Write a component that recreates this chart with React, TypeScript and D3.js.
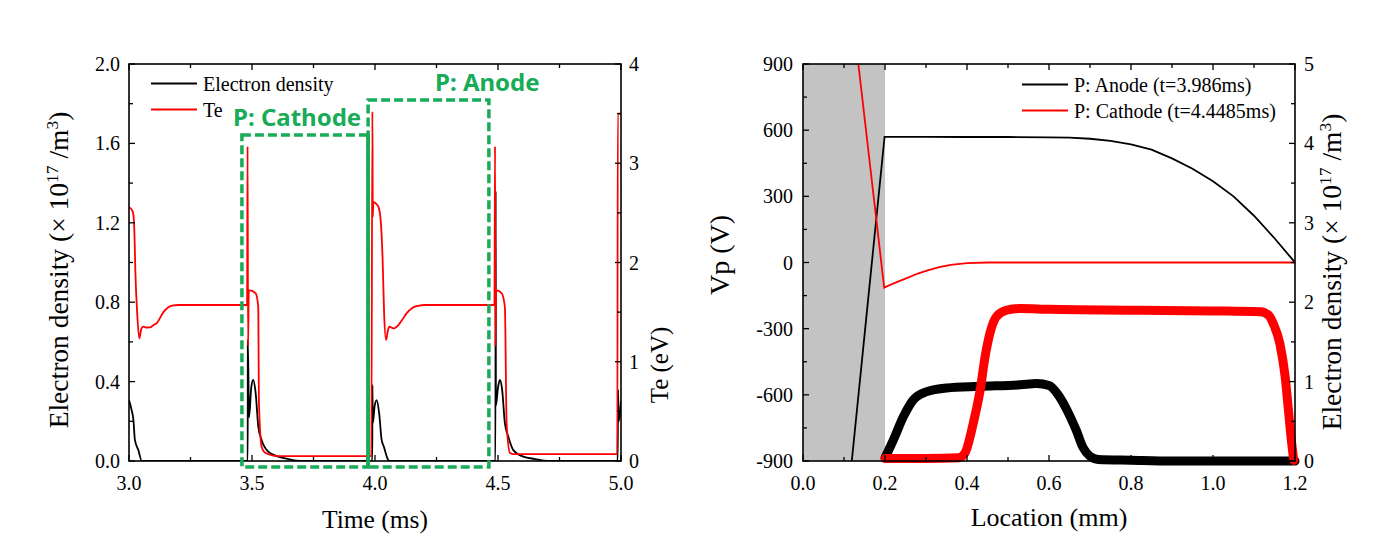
import React from 'react';
import * as d3 from 'd3';

type P = [number, number];

// ---------- Left panel (time evolution) ----------
const timeTicks = [3.0, 3.5, 4.0, 4.5, 5.0];
const timeMinor = [3.25, 3.75, 4.25, 4.75];
const neTicksL = [0, 0.4, 0.8, 1.2, 1.6, 2.0];
const neMinorL = [0.2, 0.6, 1.0, 1.4, 1.8];
const teTicks = [0, 1, 2, 3, 4];
const teMinor = [0.5, 1.5, 2.5, 3.5];

// electron density (x 10^17 /m^3) vs time (ms)
const electronDensity: P[] = [
  [3.0, 0.307], [3.01, 0.26], [3.018, 0.206], [3.024, 0.106], [3.038, 0.055], [3.052, 0.0],
  [3.4825, 0.0], [3.483, 0.61], [3.488, 0.22], [3.497, 0.37], [3.505, 0.408], [3.515, 0.341],
  [3.5256, 0.173], [3.539, 0.106], [3.566, 0.047], [3.607, 0.022], [3.648, 0.01], [3.7, 0.0],
  [3.989, 0.0], [3.9895, 0.383], [3.991, 0.19], [3.999, 0.28], [4.007, 0.307], [4.017, 0.24],
  [4.027, 0.106], [4.036, 0.072], [4.054, 0.005], [4.06, 0.0],
  [4.4895, 0.0], [4.4905, 1.36], [4.4915, 0.28], [4.5, 0.37], [4.508, 0.408], [4.517, 0.357],
  [4.528, 0.19], [4.542, 0.122], [4.562, 0.055], [4.603, 0.022], [4.65, 0.01], [4.7, 0.0],
  [4.9865, 0.0], [4.988, 0.358], [4.991, 0.2], [5.0, 0.3],
];

// electron temperature (eV) vs time (ms)
const electronTemp: P[] = [
  [3.0, 2.556], [3.012, 2.53], [3.018, 2.48], [3.022, 2.3], [3.026, 1.9], [3.033, 1.5],
  [3.042, 1.236], [3.05, 1.33], [3.058, 1.354], [3.072, 1.345], [3.085, 1.346], [3.1, 1.37],
  [3.113, 1.39], [3.14, 1.5], [3.16, 1.55], [3.18, 1.568], [3.2, 1.572],
  [3.48, 1.572], [3.482, 3.17], [3.484, 1.16], [3.487, 1.72], [3.492, 1.72], [3.515, 1.69],
  [3.5256, 1.55], [3.528, 0.61], [3.539, 0.145], [3.55, 0.09], [3.566, 0.07], [3.607, 0.05],
  [3.985, 0.05], [3.9895, 3.52], [3.991, 2.46], [3.993, 2.61], [4.005, 2.59], [4.014, 2.56],
  [4.023, 2.43], [4.031, 2.03], [4.037, 1.49], [4.045, 1.22], [4.052, 1.31], [4.058, 1.354],
  [4.075, 1.336], [4.095, 1.37], [4.11, 1.42], [4.129, 1.49], [4.15, 1.54], [4.176, 1.564],
  [4.2, 1.572],
  [4.4855, 1.572], [4.488, 3.17], [4.4895, 1.16], [4.492, 1.72], [4.495, 1.72], [4.515, 1.69],
  [4.528, 1.55], [4.535, 0.38], [4.549, 0.08], [4.56, 0.07], [4.7, 0.07],
  [4.985, 0.07], [4.987, 3.5], [5.0, 3.5],
];

// highlighted windows: [start, end, top] in (ms, x10^17 /m^3)
const cathodeBox = [3.459, 3.972, 1.642];
const anodeBox = [3.972, 4.463, 1.819];
const boxBottom = -0.03;
const boxLabels = ['P: Cathode', 'P: Anode'];
const legendLeft = ['Electron density', 'Te'];

// ---------- Right panel (spatial profiles) ----------
const locTicks = [0, 0.2, 0.4, 0.6, 0.8, 1.0, 1.2];
const locMinor = [0.1, 0.3, 0.5, 0.7, 0.9, 1.1];
const vpTicks = [-900, -600, -300, 0, 300, 600, 900];
const vpMinor = [-750, -450, -150, 150, 450, 750];
const neTicksR = [0, 1, 2, 3, 4, 5];
const neMinorR = [0.5, 1.5, 2.5, 3.5, 4.5];
const sheathRegion = [0, 0.2];

const vpAnode: P[] = [
  [0.119, -900], [0.199, 570], [0.3, 570], [0.4, 569], [0.5, 569], [0.6, 567], [0.65, 566],
  [0.7, 561], [0.75, 551], [0.8, 536], [0.85, 512], [0.9, 472], [0.95, 425], [1.0, 368],
  [1.05, 300], [1.1, 212], [1.15, 110], [1.2, 0],
];
const vpCathode: P[] = [
  [0.135, 900], [0.198, -114], [0.21, -104], [0.23, -88], [0.253, -71], [0.28, -50],
  [0.3, -38], [0.33, -22], [0.36, -11], [0.4, -3], [0.45, 0], [1.2, 0],
];
const neAnode: P[] = [
  [0.2, 0.04], [0.22, 0.26], [0.245, 0.56], [0.269, 0.77], [0.3, 0.87], [0.35, 0.92],
  [0.43, 0.94], [0.53, 0.96], [0.57, 0.975], [0.6, 0.95], [0.62, 0.85], [0.644, 0.64],
  [0.667, 0.38], [0.683, 0.17], [0.7, 0.06], [0.72, 0.02], [0.8, 0.01], [0.9, 0.0], [1.2, 0.0],
];
const neCathode: P[] = [
  [0.2, 0.03], [0.3, 0.03], [0.38, 0.04], [0.395, 0.1], [0.415, 0.47], [0.432, 0.89],
  [0.444, 1.31], [0.456, 1.61], [0.472, 1.82], [0.497, 1.9], [0.53, 1.92], [0.6, 1.91],
  [0.8, 1.9], [1.0, 1.89], [1.115, 1.88], [1.135, 1.84], [1.147, 1.73], [1.163, 1.48],
  [1.176, 1.06], [1.184, 0.64], [1.192, 0.22], [1.197, 0.01],
];
const legendRight = ['P: Anode (t=3.986ms)', 'P: Cathode (t=4.4485ms)'];

const SERIF = "'Liberation Serif','Times New Roman',serif";
const GREEN = '#18ab58';

export default function App() {
  const L = { x0: 129, x1: 621, y0: 64, y1: 461 };
  const R = { x0: 803, x1: 1295, y0: 64, y1: 461 };
  const xL = d3.scaleLinear().domain([3, 5]).range([L.x0, L.x1]);
  const yL = d3.scaleLinear().domain([0, 2]).range([L.y1, L.y0]);
  const yTe = d3.scaleLinear().domain([0, 4]).range([L.y1, L.y0]);
  const xR = d3.scaleLinear().domain([0, 1.2]).range([R.x0, R.x1]);
  const yVp = d3.scaleLinear().domain([-900, 900]).range([R.y1, R.y0]);
  const yNe = d3.scaleLinear().domain([0, 5]).range([R.y1, R.y0]);

  const lineNeL = d3.line<P>().x(d => xL(d[0])).y(d => yL(d[1])).curve(d3.curveMonotoneX);
  const lineTe = d3.line<P>().x(d => xL(d[0])).y(d => yTe(d[1])).curve(d3.curveMonotoneX);
  const lineVp = d3.line<P>().x(d => xR(d[0])).y(d => yVp(d[1])).curve(d3.curveLinear);
  const lineNeR = d3.line<P>().x(d => xR(d[0])).y(d => yNe(d[1])).curve(d3.curveMonotoneX);

  const MJ = 6, MN = 4;
  const tickStyle = { stroke: '#000', strokeWidth: 1.3 };

  const xTicks = (sc: any, maj: number[], min: number[], box: any) => (
    <g>
      {maj.map(v => (
        <g key={'M' + v}>
          <line x1={sc(v)} x2={sc(v)} y1={box.y1} y2={box.y1 - MJ} {...tickStyle} />
          <line x1={sc(v)} x2={sc(v)} y1={box.y0} y2={box.y0 + MJ} {...tickStyle} />
        </g>
      ))}
      {min.map(v => (
        <g key={'m' + v}>
          <line x1={sc(v)} x2={sc(v)} y1={box.y1} y2={box.y1 - MN} {...tickStyle} />
          <line x1={sc(v)} x2={sc(v)} y1={box.y0} y2={box.y0 + MN} {...tickStyle} />
        </g>
      ))}
    </g>
  );
  const yTicks = (sc: any, maj: number[], min: number[], x: number, dir: number) => (
    <g>
      {maj.map(v => (
        <line key={'M' + v} x1={x} x2={x + dir * MJ} y1={sc(v)} y2={sc(v)} {...tickStyle} />
      ))}
      {min.map(v => (
        <line key={'m' + v} x1={x} x2={x + dir * MN} y1={sc(v)} y2={sc(v)} {...tickStyle} />
      ))}
    </g>
  );

  const fmt1 = d3.format('.1f');
  const supTitle = (x: number, y: number) => (
    <text transform={`translate(${x},${y}) rotate(-90)`} textAnchor="middle" fontSize={27.5} fontFamily={SERIF}>
      Electron density (× 10<tspan dy={-10} fontSize={17.5}>17</tspan>
      <tspan dy={10}> /m</tspan>
      <tspan dy={-10} fontSize={17.5}>3</tspan>
      <tspan dy={10}>)</tspan>
    </text>
  );

  const box = (b: number[], key: string) => (
    <rect key={key} x={xL(b[0])} y={yL(b[2])} width={xL(b[1]) - xL(b[0])} height={yL(boxBottom) - yL(b[2])}
      fill="none" stroke={GREEN} strokeWidth={3.5} strokeDasharray="9 4" />
  );

  return (
    <svg width={1396} height={553} style={{ position: 'absolute', left: 0, top: 0, background: '#fff' }}
      fontFamily={SERIF}>
      <defs>
        <clipPath id="clipL"><rect x={L.x0} y={L.y0} width={L.x1 - L.x0} height={L.y1 - L.y0} /></clipPath>
        <clipPath id="clipR"><rect x={R.x0} y={R.y0} width={R.x1 - R.x0} height={R.y1 - R.y0} /></clipPath>
      </defs>
      <rect x={0} y={0} width={1396} height={553} fill="#fff" />

      {/* ================= LEFT PANEL ================= */}
      <g clipPath="url(#clipL)">
        <path d={lineNeL(electronDensity) || ''} fill="none" stroke="#000" strokeWidth={1.8} />
        <path d={lineTe(electronTemp) || ''} fill="none" stroke="#ff0000" strokeWidth={1.8} />
      </g>
      <rect x={L.x0} y={L.y0} width={L.x1 - L.x0} height={L.y1 - L.y0} fill="none" stroke="#000" strokeWidth={1.6} />
      {xTicks(xL, timeTicks, timeMinor, L)}
      {yTicks(yL, neTicksL, neMinorL, L.x0, 1)}
      {yTicks(yTe, teTicks, teMinor, L.x1, -1)}
      {timeTicks.map(v => (
        <text key={'tl' + v} x={xL(v)} y={490} textAnchor="middle" fontSize={20}>{fmt1(v)}</text>
      ))}
      {neTicksL.map(v => (
        <text key={'nl' + v} x={L.x0 - 9} y={yL(v) + 7} textAnchor="end" fontSize={20}>{fmt1(v)}</text>
      ))}
      {teTicks.map(v => (
        <text key={'te' + v} x={L.x1 + 8} y={yTe(v) + 7} textAnchor="start" fontSize={20}>{String(v)}</text>
      ))}
      <text x={(L.x0 + L.x1) / 2} y={528} textAnchor="middle" fontSize={25.5}>Time (ms)</text>
      {supTitle(68, 270)}
      <text transform={`translate(668,365) rotate(-90)`} textAnchor="middle" fontSize={25}>Te (eV)</text>

      {/* legend */}
      <line x1={151} x2={197} y1={83.5} y2={83.5} stroke="#000" strokeWidth={1.8} />
      <text x={203} y={90.5} fontSize={20}>{legendLeft[0]}</text>
      <line x1={151} x2={197} y1={109.5} y2={109.5} stroke="#ff0000" strokeWidth={1.8} />
      <text x={203} y={116.5} fontSize={20}>{legendLeft[1]}</text>

      {/* highlighted windows */}
      {box(cathodeBox, 'cb')}
      {box(anodeBox, 'ab')}
      <line x1={xL(cathodeBox[1])} x2={xL(cathodeBox[1])} y1={yL(cathodeBox[2])} y2={yL(boxBottom)}
        stroke={GREEN} strokeWidth={3.5} />
      <text x={233} y={126} fontFamily="'Noto Sans', sans-serif" fontWeight="bold" fontSize={24} fill={GREEN}>{boxLabels[0]}</text>
      <text x={435} y={91} fontFamily="'Noto Sans', sans-serif" fontWeight="bold" fontSize={24} fill={GREEN}>{boxLabels[1]}</text>

      {/* ================= RIGHT PANEL ================= */}
      <rect x={xR(sheathRegion[0])} y={R.y0} width={xR(sheathRegion[1]) - xR(sheathRegion[0])} height={R.y1 - R.y0} fill="#c3c3c3" />
      <g clipPath="url(#clipR)">
        <path d={lineVp(vpAnode) || ''} fill="none" stroke="#000" strokeWidth={1.8} />
        <path d={lineVp(vpCathode) || ''} fill="none" stroke="#ff0000" strokeWidth={1.8} />
      </g>
      <path d={lineNeR(neAnode) || ''} fill="none" stroke="#000" strokeWidth={9} strokeLinecap="round" strokeLinejoin="round" />
      <path d={lineNeR(neCathode) || ''} fill="none" stroke="#ff0000" strokeWidth={9} strokeLinecap="round" strokeLinejoin="round" />
      <rect x={R.x0} y={R.y0} width={R.x1 - R.x0} height={R.y1 - R.y0} fill="none" stroke="#000" strokeWidth={1.6} />
      {xTicks(xR, locTicks, locMinor, R)}
      {yTicks(yVp, vpTicks, vpMinor, R.x0, 1)}
      {yTicks(yNe, neTicksR, neMinorR, R.x1, -1)}
      {locTicks.map(v => (
        <text key={'lc' + v} x={xR(v)} y={490} textAnchor="middle" fontSize={20}>{fmt1(v)}</text>
      ))}
      {vpTicks.map(v => (
        <text key={'vp' + v} x={R.x0 - 10} y={yVp(v) + 7} textAnchor="end" fontSize={20}>{String(v)}</text>
      ))}
      {neTicksR.map(v => (
        <text key={'nr' + v} x={R.x1 + 9} y={yNe(v) + 7} textAnchor="start" fontSize={20}>{String(v)}</text>
      ))}
      <text x={(R.x0 + R.x1) / 2} y={526} textAnchor="middle" fontSize={26}>Location (mm)</text>
      <text transform={`translate(729,255) rotate(-90)`} textAnchor="middle" fontSize={28}>Vp (V)</text>
      {supTitle(1341, 272)}

      {/* legend */}
      <line x1={1022} x2={1068} y1={84.5} y2={84.5} stroke="#000" strokeWidth={1.8} />
      <text x={1074} y={91.5} fontSize={20}>{legendRight[0]}</text>
      <line x1={1022} x2={1068} y1={110.5} y2={110.5} stroke="#ff0000" strokeWidth={1.8} />
      <text x={1074} y={117.5} fontSize={20}>{legendRight[1]}</text>
    </svg>
  );
}
